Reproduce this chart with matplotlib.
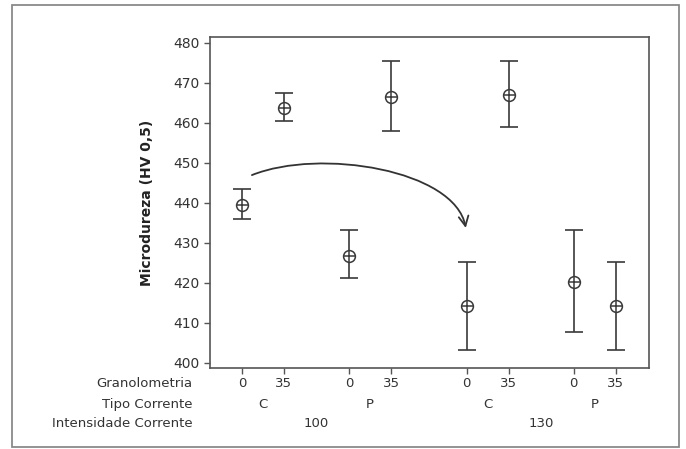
import matplotlib
matplotlib.use('Agg')
import matplotlib.pyplot as plt
from matplotlib.patches import FancyArrowPatch, Rectangle
from matplotlib.path import Path
import matplotlib.transforms as mtransforms

# Microdureza por Granolometria / Tipo Corrente / Intensidade Corrente
granolometria = ['0', '35', '0', '35', '0', '35', '0', '35']
tipo_corrente = ['C', 'P', 'C', 'P']
intensidade = ['100', '130']

media = [439.5, 463.6, 426.8, 466.5, 414.2, 466.8, 420.3, 414.2]
superior = [443.3, 467.3, 433.3, 475.5, 425.3, 475.5, 433.3, 425.3]
inferior = [435.9, 460.3, 421.3, 458.0, 403.2, 458.9, 407.8, 403.2]

# posicoes no eixo x (pares com espaco entre grupos)
xpos = []
x = 0.0
for i in range(len(media)):
    xpos.append(x)
    if i % 4 == 3:
        x += 1.8
    elif i % 2 == 1:
        x += 1.55
    else:
        x += 1.0

cor = '#3a3a3a'
plt.rcParams['font.family'] = 'DejaVu Sans'

fig = plt.figure(figsize=(6.86, 4.49), dpi=100)
ax = fig.add_axes([0.306, 0.1804, 0.640, 0.7372])

err_low = [m - l for m, l in zip(media, inferior)]
err_up = [u - m for m, u in zip(media, superior)]
ax.errorbar(xpos, media, yerr=[err_low, err_up], fmt='none', ecolor=cor,
            elinewidth=1.2, capsize=6.5, capthick=1.2)
ax.plot(xpos, media, 'o', ms=8.5, mfc='white', mec=cor, mew=1.1, ls='none')
ax.plot(xpos, media, '+', ms=8.5, color=cor, mew=1.1, ls='none')

ax.set_xlim(-0.76, 9.69)
ax.set_ylim(398.7, 481.4)
ax.set_yticks(range(400, 481, 10))
ax.tick_params(axis='y', labelsize=10, length=4, width=1, color='#555555',
               labelcolor='#333333', pad=3.5)
ax.set_xticks(xpos)
ax.tick_params(axis='x', length=4, width=1, color='#555555', labelbottom=False)
for s in ax.spines.values():
    s.set_color('#555555')
    s.set_linewidth(1.2)

ax.set_ylabel('Microdureza (HV 0,5)', fontsize=10, fontweight='bold',
              color='#222222', labelpad=14)

# linhas de categorias abaixo do eixo
trans = mtransforms.blended_transform_factory(ax.transData, ax.transAxes)
trans_lbl = ax.transAxes
rows_y = [-0.048, -0.109, -0.169]
fs = 9.5
for xp, g in zip(xpos, granolometria):
    ax.text(xp, rows_y[0], g, transform=trans, ha='center', va='center',
            fontsize=fs, color='#333333')
for k, t in enumerate(tipo_corrente):
    xc = (xpos[2 * k] + xpos[2 * k + 1]) / 2
    ax.text(xc, rows_y[1], t, transform=trans, ha='center', va='center',
            fontsize=fs, color='#333333')
for k, t in enumerate(intensidade):
    xc = (xpos[4 * k] + xpos[4 * k + 3]) / 2
    ax.text(xc, rows_y[2], t, transform=trans, ha='center', va='center',
            fontsize=fs, color='#333333')
for y, lbl in zip(rows_y, ['Granolometria', 'Tipo Corrente', 'Intensidade Corrente']):
    ax.text(-0.039, y, lbl, transform=trans_lbl, ha='right', va='center',
            fontsize=fs, color='#333333')

# seta curva
verts = [(0.24, 446.9), (1.86, 453.7), (5.07, 448.2), (5.33, 433.7)]
codes = [Path.MOVETO, Path.CURVE4, Path.CURVE4, Path.CURVE4]
seta = FancyArrowPatch(path=Path(verts, codes), arrowstyle='->,head_length=7,head_width=3.5',
                       color='#333333', lw=1.3)
ax.add_patch(seta)

# moldura externa
fig.patches.append(Rectangle((0.0175, 0.0045), 0.9723, 0.9845, transform=fig.transFigure,
                             fill=False, edgecolor='#8a8a8a', lw=1.3))

fig.savefig('out.png', dpi=100)
